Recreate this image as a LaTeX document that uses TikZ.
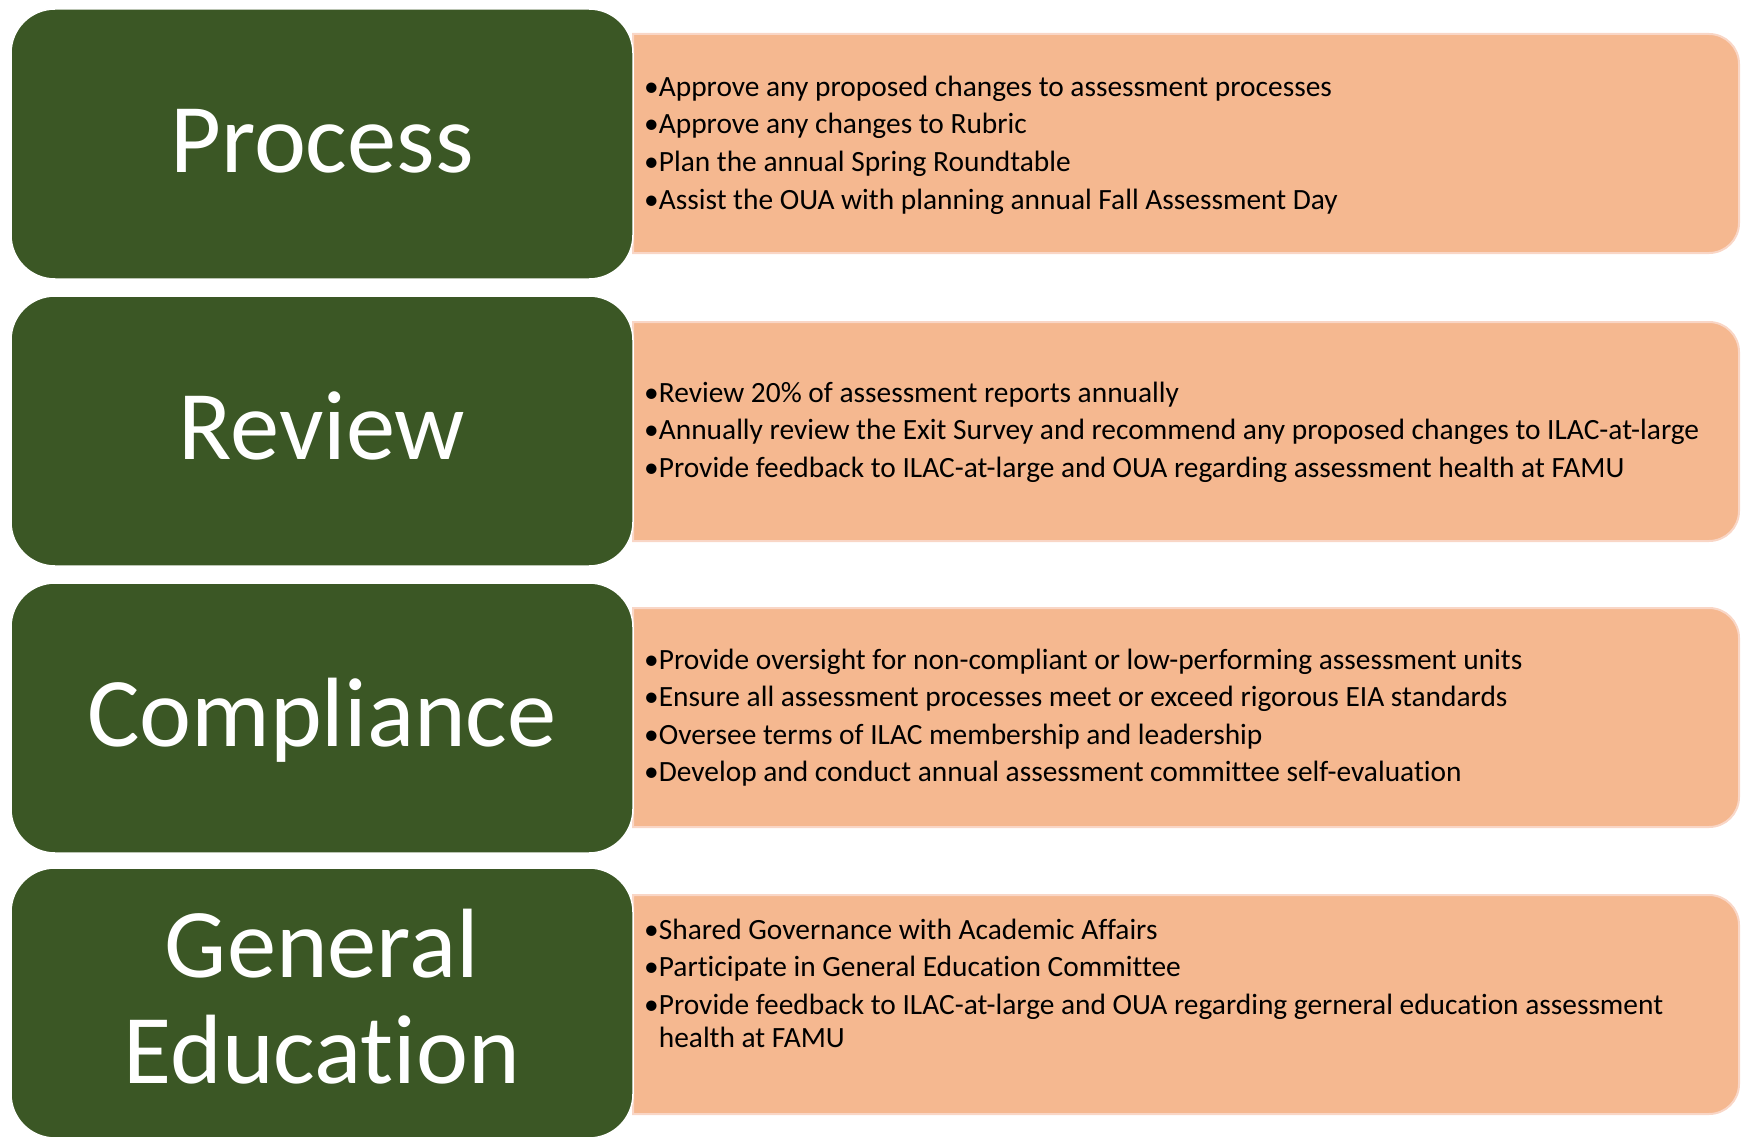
\documentclass[tikz,border=0pt]{standalone}
\usepackage{fontspec}
\setmainfont{Carlito}[Ligatures={NoCommon}]
\definecolor{catgreen}{RGB}{59,87,37}
\definecolor{detfill}{RGB}{245,184,144}
\definecolor{detline}{RGB}{249,214,198}
\newcommand\bul{•}
\newcommand\hang{\phantom{•}}
\tikzset{
  catbox/.style={draw=white, line width=1.5pt, fill=catgreen, rounded corners=44pt,
    minimum width=622pt, minimum height=270pt, inner sep=0pt},
  cattext/.style={text=white, anchor=base, inner sep=0pt, font=\fontsize{98.5}{108}\selectfont},
  detbox/.style={draw=detline, line width=2pt, fill=detfill},
  itemtext/.style={text=black, anchor=base west, inner sep=0pt, font=\fontsize{29.4}{35}\selectfont}
}
\begin{document}
\begin{tikzpicture}[x=1pt,y=-1pt]
\useasboundingbox (0,0) rectangle (1741,1137);
% detail panels (right side rounded)
\foreach \t/\b in {34/253, 322/541, 608/827, 895/1114}{
  \path[detbox] (633,\t) -- (700,\t) [rounded corners=30pt] -- (1739,\t) -- (1739,\b) -- (700,\b) [sharp corners] -- (633,\b) -- cycle;
}
% category boxes
\node[catbox] (g1) at (322,144) {};
\node[catbox] (g2) at (322,431) {};
\node[catbox] (g3) at (322,718) {};
\node[catbox] (g4) at (322,1003) {};
\node[cattext] (h1) at (322,172) {Process};
\node[cattext] (h2) at (322,459) {Review};
\node[cattext] (h3) at (322,746) {Compliance};
\node[cattext] (h4a) at (322,977) {General};
\node[cattext] (h4b) at (322,1083) {Education};
% items
\node[itemtext] (p1) at (644,96.5) {\bul Approve any proposed changes to assessment processes};
\node[itemtext] (p2) at (644,134) {\bul Approve any changes to Rubric};
\node[itemtext] (p3) at (644,171.5) {\bul Plan the annual Spring Roundtable};
\node[itemtext] (p4) at (644,209) {\bul Assist the OUA with planning annual Fall Assessment Day};
\node[itemtext] (r1) at (644,402) {\bul Review 20\% of assessment reports annually};
\node[itemtext] (r2) at (644,439.5) {\bul Annually review the Exit Survey and recommend any proposed changes to ILAC-at-large};
\node[itemtext] (r3) at (644,477) {\bul Provide feedback to ILAC-at-large and OUA regarding assessment health at FAMU};
\node[itemtext] (c1) at (644,669) {\bul Provide oversight for non-compliant or low-performing assessment units};
\node[itemtext] (c2) at (644,706.5) {\bul Ensure all assessment processes meet or exceed rigorous EIA standards};
\node[itemtext] (c3) at (644,744) {\bul Oversee terms of ILAC membership and leadership};
\node[itemtext] (c4) at (644,781.5) {\bul Develop and conduct annual assessment committee self-evaluation};
\node[itemtext] (e1) at (644,939.5) {\bul Shared Governance with Academic Affairs};
\node[itemtext] (e2) at (644,976.5) {\bul Participate in General Education Committee};
\node[itemtext] (e3) at (644,1014) {\bul Provide feedback to ILAC-at-large and OUA regarding gerneral education assessment};
\node[itemtext] (e4) at (644,1047) {\hang health at FAMU};
\end{tikzpicture}
\end{document}
